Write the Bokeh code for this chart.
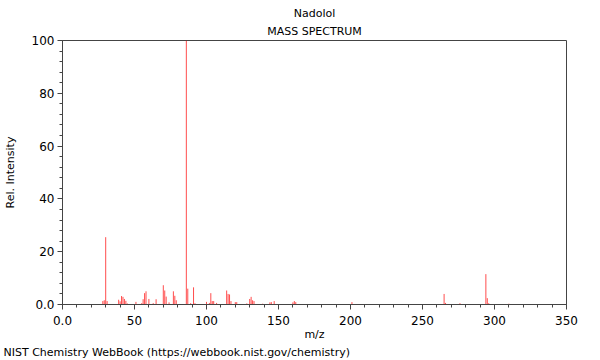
from bokeh.plotting import figure
from bokeh.models import Title, Range1d, FixedTicker
from bokeh.embed import file_html
from bokeh.resources import INLINE

title_text = "Nadolol"
subtitle_text = "MASS SPECTRUM"
x_label = "m/z"
y_label = "Rel. Intensity"
credit_text = "NIST Chemistry WebBook (https://webbook.nist.gov/chemistry)"

mz = [28, 29, 30, 31, 39, 40, 41, 42, 43, 44, 45, 51, 55, 56, 57, 58, 60, 63, 65,
      70, 71, 72, 74, 77, 78, 79, 86, 87, 89, 91, 92, 100, 102, 103, 104, 105, 107,
      114, 115, 116, 117, 120, 121, 128, 130, 131, 132, 133, 139, 144, 145, 147,
      160, 161, 162, 170, 201, 265, 266, 276, 294, 295, 296, 310]
intensity = [1.3, 1.6, 25.5, 1.3, 1.8, 1.2, 3.2, 2.9, 2.1, 1.4, 0.4, 1.0, 0.5, 2.0, 4.3, 5.0, 2.1, 0.5, 2.0,
             7.3, 5.3, 3.0, 0.8, 5.0, 3.3, 1.6, 100.0, 6.0, 0.5, 6.5, 0.5, 1.0, 0.6, 4.3, 1.3, 1.3, 0.6,
             5.3, 4.0, 3.8, 1.3, 0.9, 0.9, 0.4, 2.1, 2.9, 1.6, 1.3, 0.3, 0.8, 0.9, 1.3,
             0.8, 1.3, 0.9, 0.2, 0.9, 4.0, 0.6, 0.5, 11.5, 2.4, 0.5, 0.3]

x_ticks = [0, 50, 100, 150, 200, 250, 300, 350]
x_tick_labels = ["0.0", "50", "100", "150", "200", "250", "300", "350"]
y_ticks = [0, 20, 40, 60, 80, 100]
y_tick_labels = ["0.0", "20", "40", "60", "80", "100"]

p = figure(width=600, height=360, output_backend="svg", toolbar_location=None,
           x_range=Range1d(0, 350), y_range=Range1d(0, 100),
           min_border_left=62, min_border_right=34, min_border_top=40, min_border_bottom=56)
p.background_fill_color = "white"
p.border_fill_color = "white"
p.outline_line_color = "#444444"
p.grid.visible = False

p.segment(x0=mz, y0=[0] * len(mz), x1=mz, y1=intensity,
          line_color="#ff0000", line_alpha=0.7, line_width=1)

for ax in (p.xaxis[0], p.yaxis[0]):
    ax.axis_line_color = "#444444"
    ax.major_tick_line_color = "#444444"
    ax.minor_tick_line_color = "#444444"
    ax.major_tick_in = 0
    ax.minor_tick_in = 0
    ax.major_tick_out = 5
    ax.minor_tick_out = 3
    ax.major_label_text_font = "DejaVu Sans"
    ax.major_label_text_font_size = "12px"
    ax.major_label_text_color = "black"
    ax.axis_label_text_font = "DejaVu Sans"
    ax.axis_label_text_font_size = "11px"
    ax.axis_label_text_font_style = "normal"
    ax.axis_label_text_color = "black"

p.xaxis.ticker = FixedTicker(ticks=x_ticks, minor_ticks=list(range(0, 351, 10)))
p.xaxis.major_label_overrides = dict(zip(x_ticks, x_tick_labels))
p.yaxis.ticker = FixedTicker(ticks=y_ticks, minor_ticks=list(range(0, 101, 4)))
p.yaxis.major_label_overrides = dict(zip(y_ticks, y_tick_labels))
p.xaxis.axis_label = x_label
p.yaxis.axis_label = y_label
p.xaxis.major_label_standoff = 6
p.xaxis.axis_label_standoff = 0
p.yaxis.major_label_standoff = 3
p.yaxis.axis_label_standoff = 12

tstyle = dict(text_font="DejaVu Sans", text_font_size="11px", text_font_style="normal",
              text_color="black")
p.add_layout(Title(text=subtitle_text, align="center", standoff=5, **tstyle), "above")
p.add_layout(Title(text=title_text, align="center", standoff=2, **tstyle), "above")
p.add_layout(Title(text=credit_text, align="left", offset=-59, standoff=0, **tstyle), "below")

open("out.html", "w").write(file_html(p, INLINE))
